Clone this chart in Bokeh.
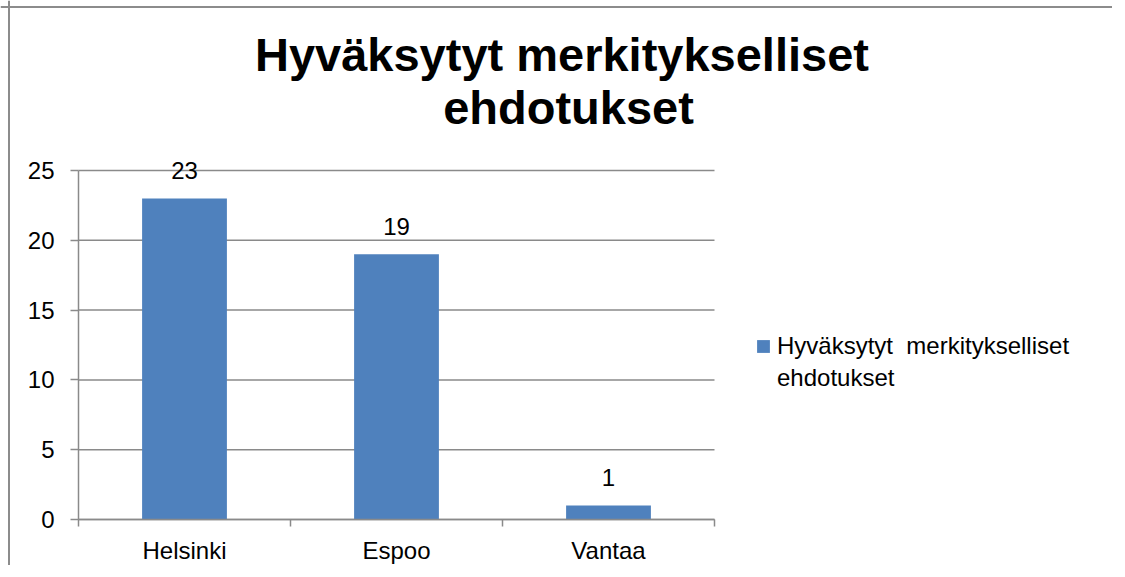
from bokeh.plotting import figure
from bokeh.models import (Range1d, FixedTicker, Label, Legend, LegendItem, ColumnDataSource,
                          LinearAxis, Span)
from bokeh.core.properties import value
from bokeh.embed import file_html
from bokeh.resources import INLINE

categories = ["Helsinki", "Espoo", "Vantaa"]
values = [23, 19, 1]
legend_lines = ["Hyväksytyt  merkitykselliset", "ehdotukset"]
title_lines = ["Hyväksytyt  merkitykselliset", "ehdotukset"]
y_ticks = [0, 5, 10, 15, 20, 25]

FONT = "Liberation Sans"
BAR = "#4F81BD"
GRID = "#8a8a8a"

# canvas geometry (pixels): plot area placed inside a full-canvas frame
W, H = 1112, 565
PX_LEFT, PX_RIGHT = 78, 714      # x of category 0 start / last category end
PX_BOTTOM, PX_TOP = 519, 170     # y of value 0 / value 25
ncat = len(categories)
ymax = 25
sx = (PX_RIGHT - PX_LEFT) / ncat
sy = (PX_BOTTOM - PX_TOP) / ymax
def dx(px):
    return (px - PX_LEFT) / sx
def dy(py):
    return (PX_BOTTOM - py) / sy

xs = [i + 0.5 for i in range(ncat)]
src = ColumnDataSource(dict(x=xs, top=values, lab=[str(v) for v in values], cat=categories))

p = figure(width=W, height=H, output_backend="svg", toolbar_location=None,
           x_range=Range1d(dx(0), dx(W)), y_range=Range1d(dy(H), dy(0)),
           x_axis_location=None, y_axis_location=None,
           min_border=0, min_border_left=0, min_border_right=0,
           min_border_top=0, min_border_bottom=0)
p.outline_line_color = None
p.background_fill_color = "white"
p.border_fill_color = "white"
p.xgrid.visible = False
p.ygrid.visible = False

# chart border (top and left edges visible in the reference)
p.add_layout(Span(location=dx(8.5), dimension="height", line_color="#8c8c8c", line_width=2))
p.add_layout(Span(location=dy(6.5), dimension="width", line_color="#8c8c8c", line_width=2))

# horizontal gridlines limited to the plot area, one per y tick
p.segment(x0=[0] * len(y_ticks), x1=[ncat] * len(y_ticks), y0=y_ticks, y1=y_ticks,
          line_color=GRID, line_width=1.5)

r = p.vbar(x="x", top="top", width=0.4, bottom=0, source=src, fill_color=BAR, line_color=None)
r_blank = p.vbar(x=[], top=[], width=0.4, bottom=0, fill_alpha=0, line_alpha=0)

p.text(x="x", y="top", text="lab", source=src, text_align="center", text_baseline="alphabetic",
       y_offset=-28, text_font=value(FONT), text_font_size="24px", text_color="black")

xaxis = LinearAxis(fixed_location=0, bounds=(0, ncat),
                   ticker=FixedTicker(ticks=xs, minor_ticks=list(range(ncat + 1))),
                   major_label_overrides={x: c for x, c in zip(xs, categories)},
                   major_tick_out=0, major_tick_in=0, minor_tick_out=7, minor_tick_in=0,
                   minor_tick_line_color=GRID, minor_tick_line_width=1.5,
                   axis_line_color=GRID, axis_line_width=1.5, major_label_standoff=10,
                   major_label_text_font=FONT, major_label_text_font_size="24px",
                   major_label_text_color="black")
p.add_layout(xaxis, "below")

yaxis = LinearAxis(fixed_location=0, bounds=(0, ymax),
                   ticker=FixedTicker(ticks=y_ticks, minor_ticks=[]),
                   major_tick_out=8, major_tick_in=0, major_tick_line_color=GRID,
                   major_tick_line_width=1.5, axis_line_color=GRID, axis_line_width=1.5,
                   major_label_standoff=16, major_label_text_font=FONT,
                   major_label_text_font_size="24px", major_label_text_color="black")
p.add_layout(yaxis, "left")

# title (two centred lines)
for line, base in zip(title_lines, [54, 107]):
    p.add_layout(Label(x=dx(568), y=dy(base), text=line, text_align="center",
                       text_baseline="alphabetic", text_font=FONT, text_font_size="47px",
                       text_font_style="bold", text_color="black"))

legend = Legend(items=[LegendItem(label=legend_lines[0], renderers=[r]),
                       LegendItem(label=legend_lines[1], renderers=[r_blank])],
                location=(755, H - 392), orientation="vertical",
                glyph_width=16, glyph_height=16, label_standoff=6, padding=0, margin=0,
                spacing=4, border_line_color=None, background_fill_alpha=0,
                label_text_font=FONT, label_text_font_size="24px", label_text_color="black")
p.add_layout(legend, "center")

open("out.html", "w").write(file_html(p, INLINE))
